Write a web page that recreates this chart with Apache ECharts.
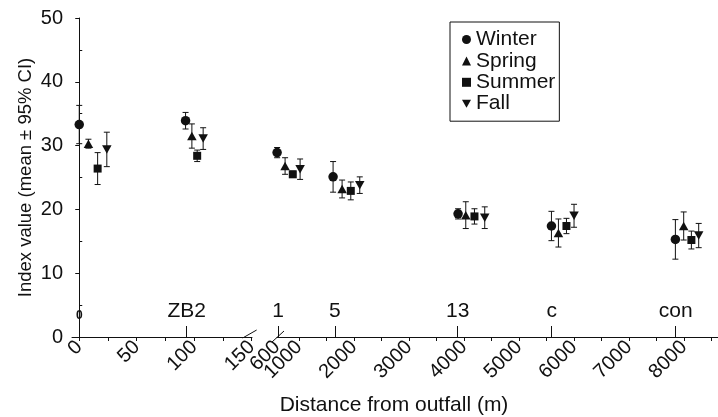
<!DOCTYPE html>
<html>
<head>
<meta charset="utf-8">
<script src="https://cdn.jsdelivr.net/npm/echarts@6/dist/echarts.min.js"></script>
<style>
html,body{margin:0;padding:0;background:#fff;}
#chart{width:718px;height:417px;}
</style>
</head>
<body>
<div id="chart"></div>
<script>
// ---- data ----
const seasons = ['Winter', 'Spring', 'Summer', 'Fall'];
const stations = ['0', 'ZB2', '1', '5', '13', 'c', 'con'];
const stationDist = [0, 93.5, 620, 1651, 3887, 5596, 7851];

// plotted distance (m) of each season's point at each station
const winterX = [0, 92.5, 602, 1620, 3893, 5591, 7845];
const springX = [8, 98, 747, 1784, 4033, 5718, 7996];
const summerX = [16, 102.6, 887, 1942, 4191, 5864, 8136];
const fallX   = [24, 107.8, 1020, 2105, 4378, 6002, 8269];

// mean index value
const winterMean = [33.3, 33.9, 28.9, 25.1, 19.3, 17.4, 15.3];
const springMean = [30.3, 31.5, 26.8, 23.2, 19.1, 16.3, 17.4];
const summerMean = [26.4, 28.4, 25.5, 22.9, 18.9, 17.4, 15.2];
const fallMean   = [29.4, 31.1, 26.3, 23.8, 18.7, 19.0, 15.9];

// 95% CI half-width
const winterCI = [3.0, 1.3, 0.8, 2.4, 0.8, 2.3, 3.1];
const springCI = [0.7, 1.9, 1.3, 1.4, 2.1, 2.2, 2.2];
const summerCI = [2.5, 0.9, 0.5, 1.4, 1.2, 1.2, 1.4];
const fallCI   = [2.7, 1.7, 1.6, 1.3, 1.7, 1.8, 1.9];

// axis tick labels
const nearLabels = [0, 50, 100, 150];
const nearTicks = [0, 25, 50, 75, 100, 125, 150];
const breakLabels = [600];
const farLabels = [1000, 2000, 3000, 4000, 5000, 6000, 7000, 8000];
const farTicks = [1000, 1500, 2000, 2500, 3000, 3500, 4000, 4500, 5000, 5500, 6000, 6500, 7000, 7500, 8000, 8500];
const yMinorTicks = [5, 15, 25, 35, 45];

// ---- chart ----
const INK = '#111';
const FONT = 'Liberation Sans, Arial, Helvetica, sans-serif';
const xs = [winterX, springX, summerX, fallX];
const means = [winterMean, springMean, summerMean, fallMean];
const cis = [winterCI, springCI, summerCI, fallCI];
const symbols = ['circle', 'triangle', 'rect', 'path://M0,0L2,0L1,1.75Z'];
const symbolSizes = [9.5, [9.5, 8.5], 8, [9.5, 8.5]];
const nearIdx = [0, 1];
const farIdx = [2, 3, 4, 5, 6];

function errorRender(params, api) {
  const x = api.value(0), lo = api.value(1), hi = api.value(2);
  const a = api.coord([x, lo]);
  const b = api.coord([x, hi]);
  const w = 3;
  const st = { stroke: INK, lineWidth: 1 };
  return {
    type: 'group',
    children: [
      { type: 'line', shape: { x1: a[0], y1: a[1], x2: b[0], y2: b[1] }, style: st },
      { type: 'line', shape: { x1: a[0] - w, y1: a[1], x2: a[0] + w, y2: a[1] }, style: st },
      { type: 'line', shape: { x1: b[0] - w, y1: b[1], x2: b[0] + w, y2: b[1] }, style: st }
    ]
  };
}

const series = [];
[[nearIdx, 0, 0], [farIdx, 2, 2]].forEach(([idx, xi, yi]) => {
  seasons.forEach((s, k) => {
    series.push({
      type: 'custom',
      xAxisIndex: xi, yAxisIndex: yi,
      renderItem: errorRender,
      silent: true, z: 1,
      data: idx.map(i => [xs[k][i], means[k][i] - cis[k][i], means[k][i] + cis[k][i]])
    });
  });
});
[[nearIdx, 0, 0], [farIdx, 2, 2]].forEach(([idx, xi, yi]) => {
  seasons.forEach((s, k) => {
    series.push({
      type: 'scatter', name: s,
      xAxisIndex: xi, yAxisIndex: yi,
      symbol: symbols[k], symbolSize: symbolSizes[k],
      itemStyle: { color: INK, opacity: 1 },
      clip: false, z: 3,
      data: idx.map(i => [xs[k][i], means[k][i]])
    });
  });
});

function stationAxis(gridIndex, min, max, list) {
  return {
    type: 'value', gridIndex, min, max, position: 'bottom',
    axisLine: { show: false, onZero: false },
    splitLine: { show: false },
    axisTick: { show: true, inside: true, length: 11, customValues: list, lineStyle: { color: INK, width: 1 } },
    axisLabel: {
      show: true, inside: true, margin: 15, customValues: list,
      showMinLabel: true, showMaxLabel: true, hideOverlap: false,
      color: INK, fontSize: 21, fontFamily: FONT,
      formatter: v => {
        const n = stations[stationDist.indexOf(v)];
        return n === '0' ? '{b|0}' : n;
      },
      rich: { b: { fontSize: 12, fontWeight: 'bold', fontFamily: FONT, color: INK } }
    }
  };
}

function numLabels(list) {
  return {
    customValues: list, rotate: 45, margin: 7,
    showMinLabel: true, showMaxLabel: true, hideOverlap: false,
    color: INK, fontSize: 20, fontFamily: FONT,
    formatter: v => String(v)
  };
}

const mainXStyle = {
  axisLine: { show: true, onZero: false, lineStyle: { color: INK, width: 1 } },
  splitLine: { show: false }
};

const option = {
  backgroundColor: '#fff',
  animation: false,
  textStyle: { fontFamily: FONT },
  grid: [
    { left: 72, top: 18, width: 180, height: 319 },
    { left: 277, top: 18, width: 441, height: 319 }
  ],
  xAxis: [
    Object.assign({
      type: 'value', gridIndex: 0, min: -6.3, max: 150.3,
      axisTick: { show: true, length: 4, customValues: nearTicks, lineStyle: { color: INK } },
      axisLabel: numLabels(nearLabels)
    }, mainXStyle),
    stationAxis(0, -6.3, 150.3, stationDist.slice(0, 2)),
    Object.assign({
      type: 'value', gridIndex: 1, min: 600, max: 8620,
      axisTick: { show: true, length: 4, customValues: farTicks, lineStyle: { color: INK } },
      axisLabel: numLabels(farLabels)
    }, mainXStyle),
    stationAxis(1, 600, 8620, stationDist.slice(2)),
    {
      type: 'value', gridIndex: 1, min: 600, max: 8620, position: 'bottom',
      axisLine: { show: false, onZero: false },
      axisTick: { show: false },
      splitLine: { show: false },
      axisLabel: numLabels(breakLabels)
    }
  ],
  yAxis: [
    {
      type: 'value', gridIndex: 0, min: 0, max: 50, interval: 10,
      name: 'Index value (mean \u00b1 95% CI)', nameLocation: 'middle', nameGap: 37,
      nameTextStyle: { fontSize: 18.5, color: INK, fontFamily: FONT },
      axisLine: { show: true, lineStyle: { color: INK, width: 1 } },
      axisTick: { show: true, length: 4, lineStyle: { color: INK } },
      axisLabel: { margin: 9, color: INK, fontSize: 20, fontFamily: FONT },
      splitLine: { show: false }
    },
    {
      type: 'value', gridIndex: 0, min: 0, max: 50, position: 'left',
      axisLine: { show: false },
      axisTick: { show: true, inside: true, length: 3, customValues: yMinorTicks, lineStyle: { color: INK } },
      axisLabel: { show: false },
      splitLine: { show: false }
    },
    {
      type: 'value', gridIndex: 1, min: 0, max: 50, show: false,
      splitLine: { show: false }
    }
  ],
  legend: {
    orient: 'vertical', left: 450, top: 22,
    padding: [7, 4, 7, 12], itemGap: 0.4, itemWidth: 9, itemHeight: 9,
    borderColor: INK, borderWidth: 1, selectedMode: false,
    textStyle: { fontSize: 21, lineHeight: 19, color: INK, fontFamily: FONT },
    data: seasons.map((s, k) => ({ name: s, icon: symbols[k], itemStyle: { color: INK } }))
  },
  series
};

const chart = echarts.init(document.getElementById('chart'), null, { renderer: 'canvas' });
chart.setOption(option);

// axis break marks and x-axis title
const pA = chart.convertToPixel({ xAxisIndex: 0, yAxisIndex: 0 }, [150, 0]);
const pB = chart.convertToPixel({ xAxisIndex: 2, yAxisIndex: 2 }, [600, 0]);
chart.setOption({
  graphic: [
    { type: 'line', shape: { x1: pA[0] - 9, y1: pA[1] + 1, x2: pA[0] + 5, y2: pA[1] - 7 }, style: { stroke: INK, lineWidth: 1 } },
    { type: 'line', shape: { x1: pB[0] - 5, y1: pB[1] + 5, x2: pB[0] + 7, y2: pB[1] - 6 }, style: { stroke: INK, lineWidth: 1 } },
    { type: 'text', x: 394, y: 405, style: { text: 'Distance from outfall (m)', fill: INK, font: '21px ' + FONT, textAlign: 'center', textVerticalAlign: 'middle' } }
  ]
});
</script>
</body>
</html>
